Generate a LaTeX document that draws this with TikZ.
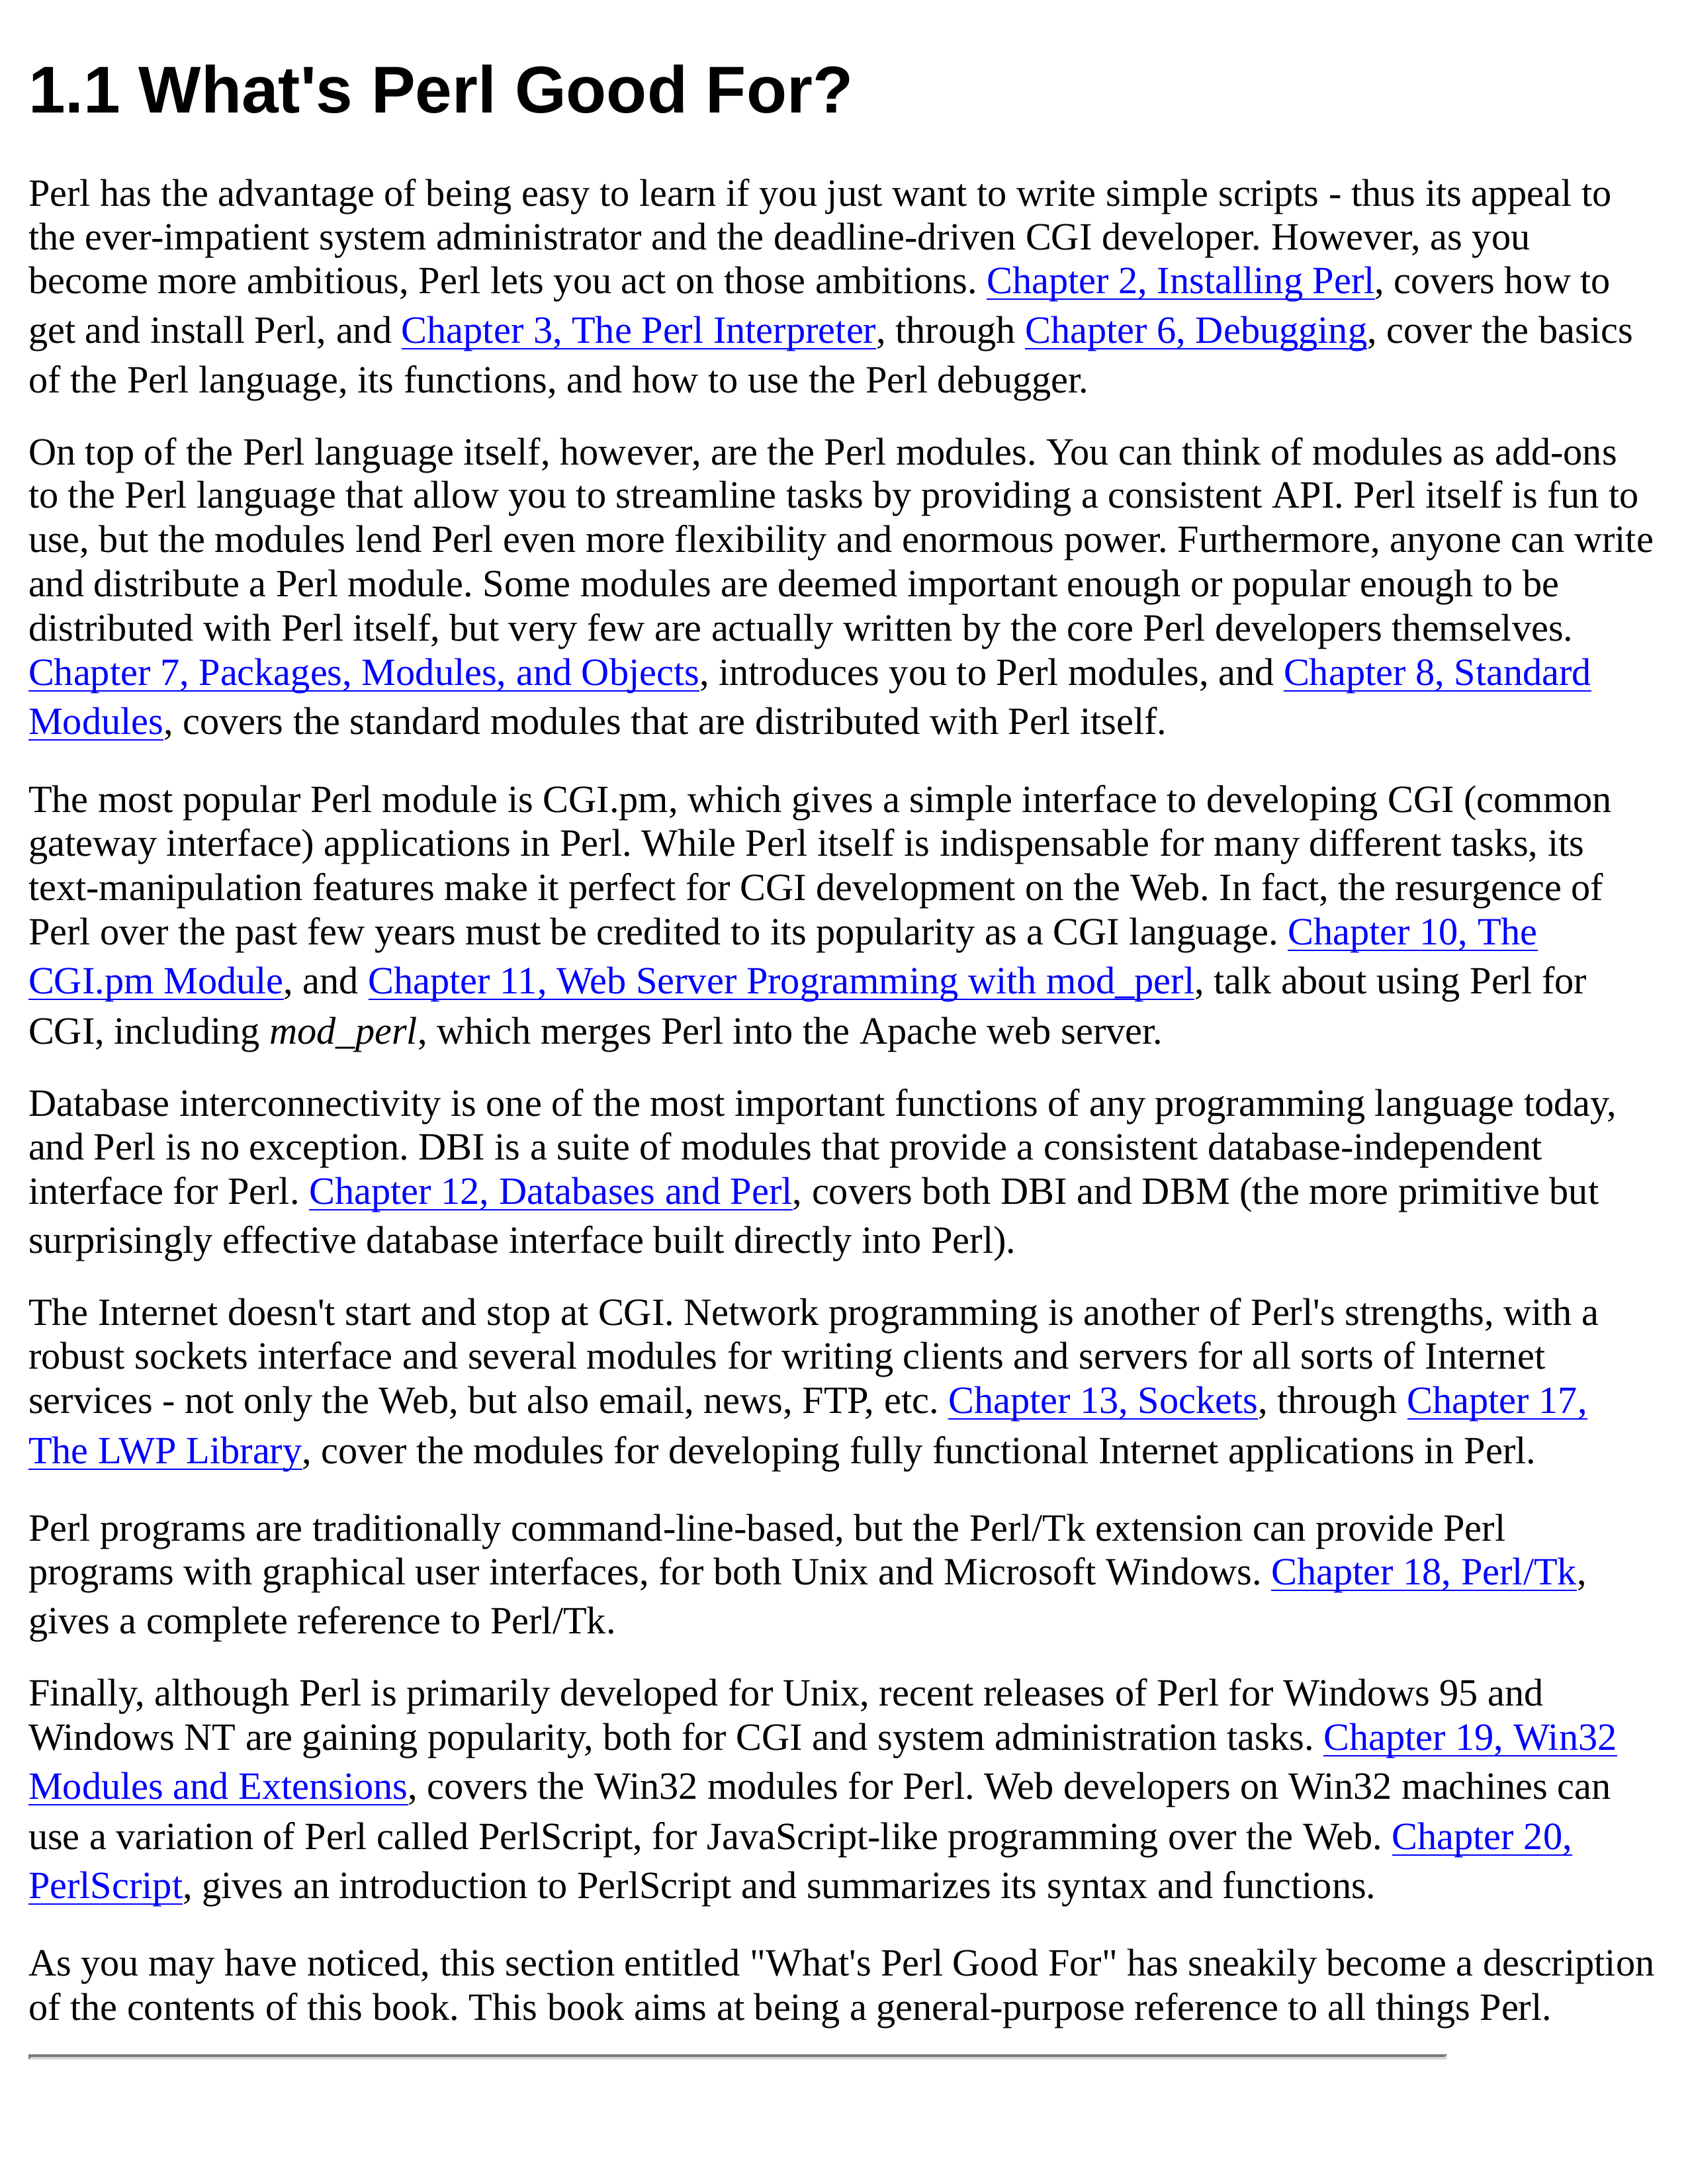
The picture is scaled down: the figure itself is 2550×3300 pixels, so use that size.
\documentclass[tikz,border=0pt]{standalone}
\usepackage{fontspec}
\setmainfont{Liberation Serif}[Ligatures=TeXOff]
\newfontfamily\titlefont{Liberation Sans}[Ligatures=TeXOff]
\definecolor{linkblue}{HTML}{0000FF}
\definecolor{hrdark}{HTML}{7A7A7A}
\definecolor{hrlight}{HTML}{DADADA}
\newlength\lnkw
\newcommand\lnk[1]{\settowidth\lnkw{#1}\textcolor{linkblue}{\rlap{\rule[-2.5pt]{\lnkw}{0.6pt}}#1}}
\newcommand\bodysize{\fontsize{14pt}{16pt}\selectfont\frenchspacing}
\tikzset{
  body/.style={anchor=base west, inner sep=0pt, outer sep=0pt, font=\bodysize},
  heading/.style={anchor=base west, inner sep=0pt, outer sep=0pt, font=\titlefont\bfseries\fontsize{24pt}{28pt}\selectfont}
}
\begin{document}
\begin{tikzpicture}[x=0.24pt,y=-0.24pt]
\useasboundingbox (0,0) rectangle (2550,3300);
\def\lm{43}
\node[heading] (title) at (\lm,170) {1.1 What's Perl Good For?};
% P1
\node[body] (a1) at (\lm,311) {Perl has the advantage of being easy to learn if you just want to write simple scripts - thus its appeal to};
\node[body] (a2) at (\lm,377) {the ever-impatient system administrator and the deadline-driven CGI developer. However, as you};
\node[body] (a3) at (\lm,443) {become more ambitious, Perl lets you act on those ambitions. \lnk{Chapter 2, Installing Perl}, covers how to};
\node[body] (a4) at (\lm,518) {get and install Perl, and \lnk{Chapter 3, The Perl Interpreter}, through \lnk{Chapter 6, Debugging}, cover the basics};
\node[body] (a5) at (\lm,593) {of the Perl language, its functions, and how to use the Perl debugger.};
% P2
\node[body] (b1) at (\lm,702) {On top of the Perl language itself, however, are the Perl modules. You can think of modules as add-ons};
\node[body] (b2) at (\lm,767) {to the Perl language that allow you to streamline tasks by providing a consistent API. Perl itself is fun to};
\node[body] (b3) at (\lm,834) {use, but the modules lend Perl even more flexibility and enormous power. Furthermore, anyone can write};
\node[body] (b4) at (\lm,901) {and distribute a Perl module. Some modules are deemed important enough or popular enough to be};
\node[body] (b5) at (\lm,968) {distributed with Perl itself, but very few are actually written by the core Perl developers themselves.};
\node[body] (b6) at (\lm,1035) {\lnk{Chapter 7, Packages, Modules, and Objects}, introduces you to Perl modules, and \lnk{Chapter 8, Standard}};
\node[body] (b7) at (\lm,1109) {\lnk{Modules}, covers the standard modules that are distributed with Perl itself.};
% P3
\node[body] (c1) at (\lm,1227) {The most popular Perl module is CGI.pm, which gives a simple interface to developing CGI (common};
\node[body] (c2) at (\lm,1293) {gateway interface) applications in Perl. While Perl itself is indispensable for many different tasks, its};
\node[body] (c3) at (\lm,1360) {text-manipulation features make it perfect for CGI development on the Web. In fact, the resurgence of};
\node[body] (c4) at (\lm,1427) {Perl over the past few years must be credited to its popularity as a CGI language. \lnk{Chapter 10, The}};
\node[body] (c5) at (\lm,1501) {\lnk{CGI.pm Module}, and \lnk{Chapter 11, Web Server Programming with mod\_perl}, talk about using Perl for};
\node[body] (c6) at (\lm,1577) {CGI, including \textit{mod\_perl}, which merges Perl into the Apache web server.};
% P4
\node[body] (d1) at (\lm,1686) {Database interconnectivity is one of the most important functions of any programming language today,};
\node[body] (d2) at (\lm,1752) {and Perl is no exception. DBI is a suite of modules that provide a consistent database-independent};
\node[body] (d3) at (\lm,1819) {interface for Perl. \lnk{Chapter 12, Databases and Perl}, covers both DBI and DBM (the more primitive but};
\node[body] (d4) at (\lm,1893) {surprisingly effective database interface built directly into Perl).};
% P5
\node[body] (e1) at (\lm,2002) {The Internet doesn't start and stop at CGI. Network programming is another of Perl's strengths, with a};
\node[body] (e2) at (\lm,2068) {robust sockets interface and several modules for writing clients and servers for all sorts of Internet};
\node[body] (e3) at (\lm,2135) {services - not only the Web, but also email, news, FTP, etc. \lnk{Chapter 13, Sockets}, through \lnk{Chapter 17,}};
\node[body] (e4) at (\lm,2211) {\lnk{The LWP Library}, cover the modules for developing fully functional Internet applications in Perl.};
% P6
\node[body] (f1) at (\lm,2328) {Perl programs are traditionally command-line-based, but the Perl/Tk extension can provide Perl};
\node[body] (f2) at (\lm,2394) {programs with graphical user interfaces, for both Unix and Microsoft Windows. \lnk{Chapter 18, Perl/Tk},};
\node[body] (f3) at (\lm,2468) {gives a complete reference to Perl/Tk.};
% P7
\node[body] (g1) at (\lm,2577) {Finally, although Perl is primarily developed for Unix, recent releases of Perl for Windows 95 and};
\node[body] (g2) at (\lm,2644) {Windows NT are gaining popularity, both for CGI and system administration tasks. \lnk{Chapter 19, Win32}};
\node[body] (g3) at (\lm,2718) {\lnk{Modules and Extensions}, covers the Win32 modules for Perl. Web developers on Win32 machines can};
\node[body] (g4) at (\lm,2794) {use a variation of Perl called PerlScript, for JavaScript-like programming over the Web. \lnk{Chapter 20,}};
\node[body] (g5) at (\lm,2868) {\lnk{PerlScript}, gives an introduction to PerlScript and summarizes its syntax and functions.};
% P8
\node[body] (h1) at (\lm,2985) {As you may have noticed, this section entitled "What's Perl Good For" has sneakily become a description};
\node[body] (h2) at (\lm,3052) {of the contents of this book. This book aims at being a general-purpose reference to all things Perl.};
% horizontal rule
\coordinate (hrA) at (\lm,3104);
\coordinate (hrB) at (2187,3112);
\fill[hrlight] (hrA) rectangle (hrB);
\fill[hrdark] (\lm,3104) -- (2187,3104) -- (2183,3108) -- (\lm+4,3108) -- (\lm,3112) -- cycle;
\end{tikzpicture}
\end{document}
